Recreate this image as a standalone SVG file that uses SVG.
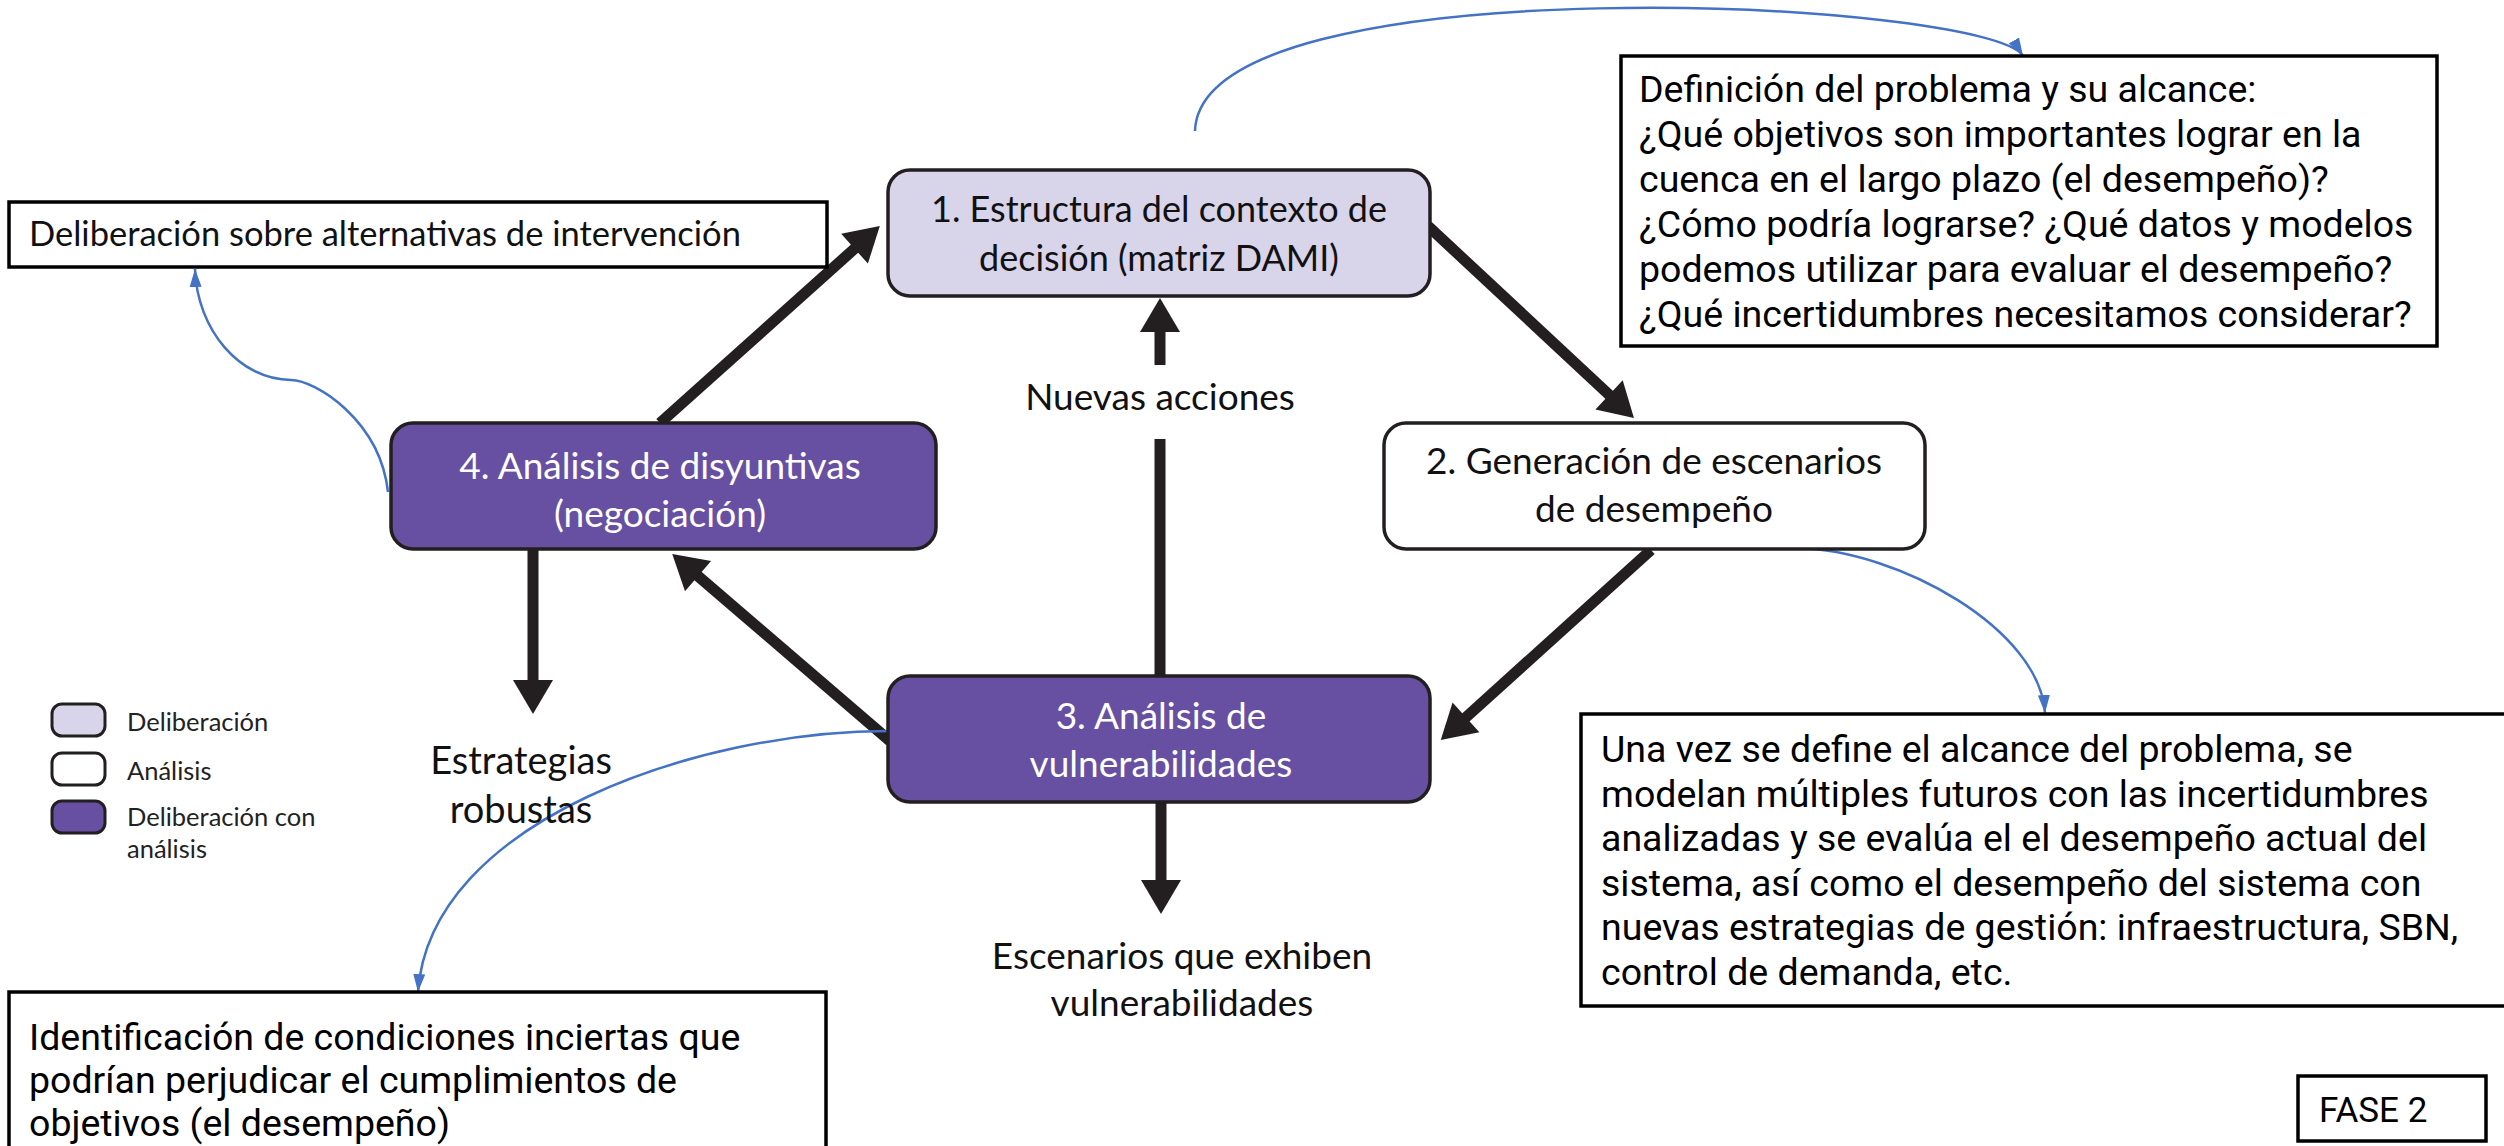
<svg xmlns="http://www.w3.org/2000/svg" width="2504" height="1146" viewBox="0 0 2504 1146">
<style>
.node{stroke:#231f20;stroke-width:3.5}
.delib{fill:#d8d4ea}
.anal{fill:#ffffff}
.both{fill:#6750a1}
.note{fill:#ffffff;stroke:#000;stroke-width:3.5}
.cal{font-family:Lato,"Liberation Sans",sans-serif;font-size:37px;fill:#111}
.calw{font-family:Lato,"Liberation Sans",sans-serif;font-size:37px;fill:#ffffff}
.din{font-family:Roboto,"Liberation Sans",sans-serif;font-size:37.5px;fill:#000}
.leg{font-family:Lato,"Liberation Sans",sans-serif;font-size:25.5px;fill:#222}
.big{stroke:#231f20;stroke-width:11;fill:none}
.blue{stroke:#4472c4;stroke-width:2.5;fill:none}
</style>
<defs>
<marker id="ah" markerUnits="userSpaceOnUse" markerWidth="40" markerHeight="44" viewBox="0 -22 36 44" refX="4" refY="0" orient="auto">
<path d="M0,-20 L34,0 L0,20 z" fill="#231f20"/>
</marker>
<marker id="bh" markerUnits="userSpaceOnUse" markerWidth="20" markerHeight="16" viewBox="0 -8 20 16" refX="18" refY="0" orient="auto">
<path d="M0,-6 L18,0 L0,6 z" fill="#4472c4"/>
</marker>
</defs>

<g id="connectors">
<line class="big" x1="1428" y1="226" x2="1612" y2="397.5" marker-end="url(#ah)"/>
<line class="big" x1="1651" y1="550" x2="1463" y2="720" marker-end="url(#ah)"/>
<line class="big" x1="890" y1="741" x2="695" y2="573.5" marker-end="url(#ah)"/>
<line class="big" x1="660" y1="423" x2="857.5" y2="246" marker-end="url(#ah)"/>
<line class="big" x1="1160" y1="677" x2="1160" y2="439"/>
<line class="big" x1="1160" y1="365" x2="1160" y2="328" marker-end="url(#ah)"/>
<line class="big" x1="533" y1="549" x2="533" y2="684" marker-end="url(#ah)"/>
<line class="big" x1="1161" y1="803" x2="1161" y2="884" marker-end="url(#ah)"/>
<path class="blue" d="M1195,131 C1200,-40 1990,0 2023,56" marker-end="url(#bh)"/>
<path class="blue" d="M1797,548 C1900,550 2040,630 2045,713" marker-end="url(#bh)"/>
<path class="blue" d="M888,731 C700,731 430,820 418,992" marker-end="url(#bh)"/>
<path class="blue" d="M388,492 C380,420 315,380 291,380 C240,380 197,330 195,269" marker-end="url(#bh)"/>
</g>

<g id="node1">
<rect class="node delib" x="888" y="170" width="542" height="126" rx="22"/>
<text class="cal" x="1159" y="222" text-anchor="middle" style="font-size:36px">1. Estructura del contexto de</text>
<text class="cal" x="1159" y="271" text-anchor="middle" style="font-size:36px">decisión (matriz DAMI)</text>
</g>

<g id="node2">
<rect class="node anal" x="1384" y="423" width="541" height="126" rx="22"/>
<text class="cal" x="1654" y="474" text-anchor="middle">2. Generación de escenarios</text>
<text class="cal" x="1654" y="522" text-anchor="middle">de desempeño</text>
</g>

<g id="node3">
<rect class="node both" x="888" y="676" width="542" height="126" rx="22"/>
<text class="calw" x="1161" y="729" text-anchor="middle">3. Análisis de</text>
<text class="calw" x="1161" y="777" text-anchor="middle">vulnerabilidades</text>
</g>

<g id="node4">
<rect class="node both" x="391" y="423" width="545" height="126" rx="22"/>
<text class="calw" x="660" y="479" text-anchor="middle">4. Análisis de disyuntivas</text>
<text class="calw" x="660" y="527" text-anchor="middle">(negociación)</text>
</g>

<g id="label-nuevas">
<text class="cal" x="1160" y="410" text-anchor="middle">Nuevas acciones</text>
</g>

<g id="label-estrategias">
<text class="cal" x="521" y="774" text-anchor="middle" style="font-size:38px">Estrategias</text>
<text class="cal" x="521" y="823" text-anchor="middle" style="font-size:38px">robustas</text>
</g>

<g id="label-escenarios">
<text class="cal" x="1182" y="969" text-anchor="middle">Escenarios que exhiben</text>
<text class="cal" x="1182" y="1016" text-anchor="middle">vulnerabilidades</text>
</g>

<g id="note-definicion">
<rect class="note" x="1621" y="56" width="816" height="290"/>
<text class="din" x="1639" y="102">Definición del problema y su alcance:</text>
<text class="din" x="1639" y="147">¿Qué objetivos son importantes lograr en la</text>
<text class="din" x="1639" y="192">cuenca en el largo plazo (el desempeño)?</text>
<text class="din" x="1639" y="237">¿Cómo podría lograrse? ¿Qué datos y modelos</text>
<text class="din" x="1639" y="282">podemos utilizar para evaluar el desempeño?</text>
<text class="din" x="1639" y="327">¿Qué incertidumbres necesitamos considerar?</text>
</g>

<g id="note-deliberacion">
<rect class="note" x="9" y="202" width="818" height="65"/>
<text class="cal" x="29" y="246" style="font-size:34.5px">Deliberación sobre alternativas de intervención</text>
</g>

<g id="note-una-vez">
<rect class="note" x="1581" y="714" width="940" height="292"/>
<text class="din" x="1601" y="762">Una vez se define el alcance del problema, se</text>
<text class="din" x="1601" y="807">modelan múltiples futuros con las incertidumbres</text>
<text class="din" x="1601" y="851">analizadas y se evalúa el el desempeño actual del</text>
<text class="din" x="1601" y="896">sistema, así como el desempeño del sistema con</text>
<text class="din" x="1601" y="940">nuevas estrategias de gestión: infraestructura, SBN,</text>
<text class="din" x="1601" y="985">control de demanda, etc.</text>
</g>

<g id="note-identificacion">
<rect class="note" x="9" y="992" width="817" height="170"/>
<text class="din" x="29" y="1050">Identificación de condiciones inciertas que</text>
<text class="din" x="29" y="1093">podrían perjudicar el cumplimientos de</text>
<text class="din" x="29" y="1136">objetivos (el desempeño)</text>
</g>

<g id="fase">
<rect class="note" x="2298" y="1076" width="188" height="65"/>
<text class="din" x="2319" y="1122" style="font-size:35px">FASE 2</text>
</g>

<g id="legend">
<rect class="node delib" x="52" y="704" width="53" height="32" rx="10" style="stroke-width:3"/>
<rect class="node anal" x="52" y="753" width="53" height="32" rx="10" style="stroke-width:3"/>
<rect class="node both" x="52" y="801" width="53" height="32" rx="10" style="stroke-width:3"/>
<text class="leg" x="127" y="731">Deliberación</text>
<text class="leg" x="127" y="780">Análisis</text>
<text class="leg" x="127" y="826">Deliberación con</text>
<text class="leg" x="127" y="858">análisis</text>
</g>
</svg>
